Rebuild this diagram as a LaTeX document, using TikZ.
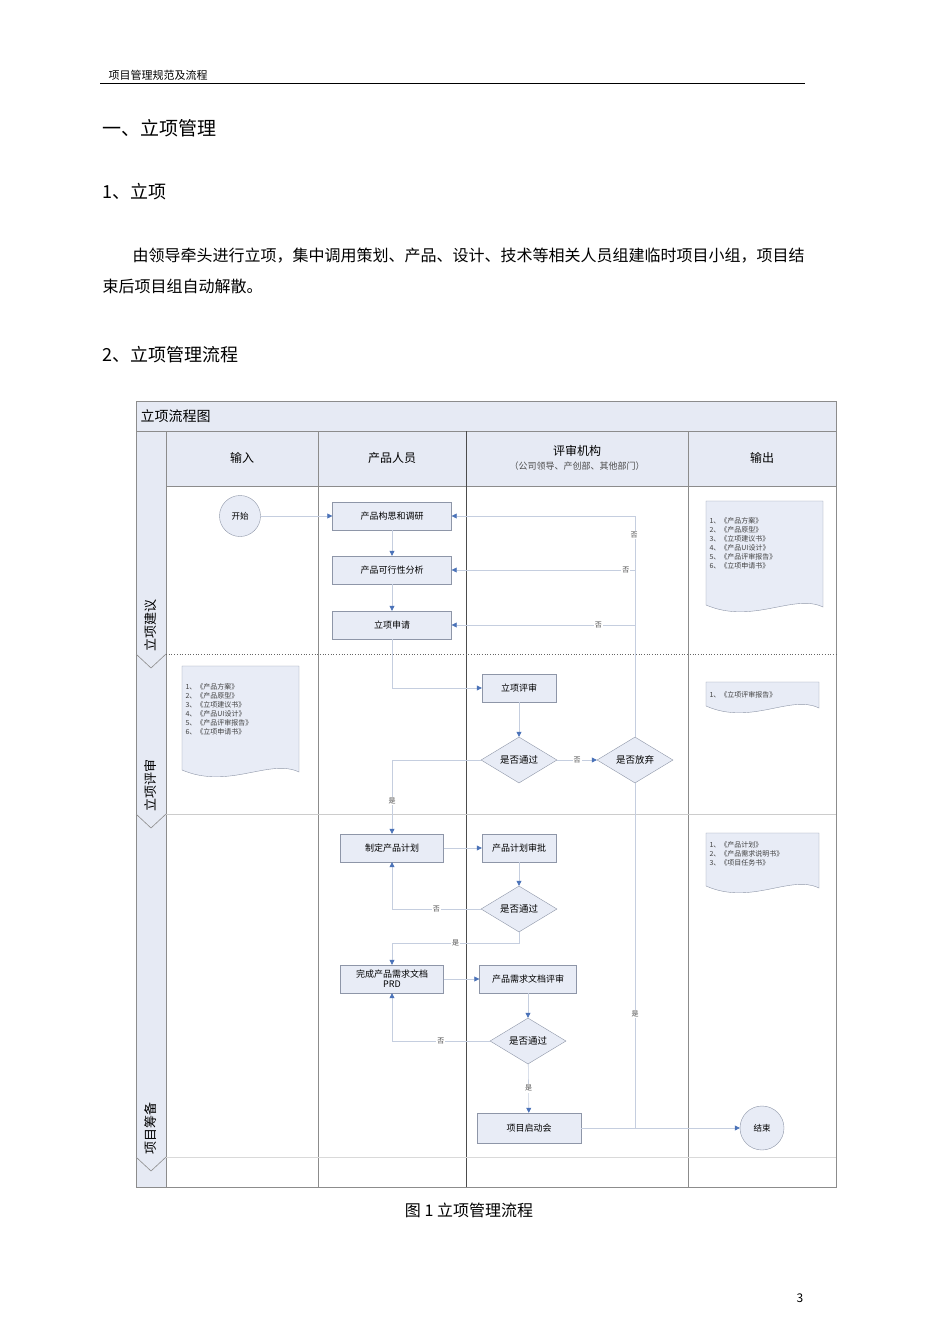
\documentclass[tikz,border=0pt]{standalone}
\usepackage{fontspec}
\setmainfont{Noto Sans CJK SC}
\usetikzlibrary{shapes.geometric,arrows.meta}
\definecolor{boxfill}{HTML}{E8ECF6}
\definecolor{boxdraw}{HTML}{8E96A8}
\definecolor{lnk}{HTML}{C5CEDF}
\definecolor{tip}{HTML}{4A72B8}
\definecolor{hdr}{HTML}{E6EAF4}
\tikzset{
 x=1pt,y=-1pt,
 proc/.style={draw=boxdraw,fill=boxfill,minimum height=28pt,inner sep=1pt,font=\fontsize{9}{10}\selectfont,align=center},
 dec/.style={diamond,draw=boxdraw,fill=boxfill,aspect=1.65,inner sep=0pt,minimum width=76pt,minimum height=46pt,font=\fontsize{9.5}{10}\selectfont},
 term/.style={circle,draw=boxdraw,fill=boxfill,minimum size=41pt,inner sep=0pt,font=\fontsize{8.5}{9}\selectfont},
 lk/.style={draw=lnk,line width=0.6pt,-{Triangle[color=tip,length=5pt,width=5pt]}},
 ln/.style={draw=lnk,line width=0.6pt},
 lab/.style={font=\fontsize{7}{8}\selectfont,text=black!70,inner sep=1pt,fill=white},
 doctext/.style={font=\fontsize{7}{9}\selectfont,align=left,anchor=north west,text=black!75},
 lane/.style={draw=black!45,line width=0.7pt},
}
\newcommand{\docshape}[4]{% x1 y1 x2 ybottom
 \path[draw=boxdraw,fill=boxfill] (#1,#2) -- (#3,#2) -- (#3,#4-8)
  .. controls ({#3-0.25*(#3-#1)},#4-22) and ({#1+0.4*(#3-#1)},#4+10) .. (#1,#4-10) -- cycle;}
\begin{document}
\begin{tikzpicture}
\useasboundingbox (0,0) rectangle (950,1344);
\fill[white] (0,0) rectangle (950,1344);
% page header
\node[anchor=west,font=\fontsize{11}{12}\selectfont] (hd) at (105,75) {项目管理规范及流程};
\draw[line width=0.8pt] (100,83) -- (805,83);
\node[anchor=west,font=\fontsize{19}{20}\selectfont] (h1) at (99,128) {一、立项管理};
\node[anchor=west,font=\fontsize{18}{20}\selectfont] (h2) at (99,192) {1、立项};
\node[anchor=west,font=\fontsize{16}{18}\selectfont] (p1) at (129,256) {由领导牵头进行立项，集中调用策划、产品、设计、技术等相关人员组建临时项目小组，项目结};
\node[anchor=west,font=\fontsize{16}{18}\selectfont] (p2) at (99,286) {束后项目组自动解散。};
\node[anchor=west,font=\fontsize{18}{20}\selectfont] (h3) at (99,355) {2、立项管理流程};
% frame
\fill[hdr] (136,401) rectangle (836,431);
\fill[hdr] (166,431) rectangle (836,486);
\fill[hdr] (136,431) rectangle (166,1187);
\draw[black!45,line width=0.8pt] (136,401) rectangle (836,1187);
\draw[lane] (136,431) -- (836,431);
\draw[lane] (166,486) -- (836,486);
\node[anchor=west,font=\fontsize{14}{16}\selectfont] (title) at (137,416) {立项流程图};
\draw[lane] (166,431) -- (166,1187);
\draw[lane] (318,431) -- (318,1187);
\draw[black!70,line width=0.7pt] (466,431) -- (466,1187);
\draw[lane] (688,431) -- (688,1187);
\draw[black!60,dotted,line width=0.7pt] (166,654) -- (836,654);
\draw[black!20,line width=0.5pt] (166,814) -- (836,814);
\draw[black!15,line width=0.5pt] (166,1157) -- (836,1157);
\node[font=\fontsize{12}{14}\selectfont] (c1) at (242,458) {输入};
\node[font=\fontsize{12}{14}\selectfont] (c2) at (392,458) {产品人员};
\node[font=\fontsize{12}{14}\selectfont] (c3) at (577,451) {评审机构};
\node[font=\fontsize{9}{10}\selectfont,text=black!70] (c3b) at (577,466) {（公司领导、产创部、其他部门）};
\node[font=\fontsize{12}{14}\selectfont] (c4) at (762,458) {输出};
% phase chevrons
\foreach \yy in {654,814,1157}{\draw[black!45,fill=hdr,line width=0.6pt] (136,\yy) -- (151,\yy+14) -- (166,\yy);}
\node[rotate=90,font=\fontsize{13}{14}\selectfont] (ph1) at (151,625) {立项建议};
\node[rotate=90,font=\fontsize{13}{14}\selectfont] (ph2) at (151,785) {立项评审};
\node[rotate=90,font=\fontsize{13}{14}\selectfont] (ph3) at (151,1128) {项目筹备};
% documents
\docshape{706}{501}{823}{615}
\node[doctext] (o1) at (706,514) {1、《产品方案》\\2、《产品原型》\\3、《立项建议书》\\4、《产品UI设计》\\5、《产品评审报告》\\6、《立项申请书》};
\docshape{182}{666}{299}{780}
\node[doctext] (i1) at (182,680) {1、《产品方案》\\2、《产品原型》\\3、《立项建议书》\\4、《产品UI设计》\\5、《产品评审报告》\\6、《立项申请书》};
\docshape{706}{682}{819}{716}
\node[doctext] (o2) at (706,688) {1、《立项评审报告》};
\docshape{706}{833}{819}{896}
\node[doctext] (o3) at (706,838) {1、《产品计划》\\2、《产品需求说明书》\\3、《项目任务书》};
% nodes
\node[term] (start) at (240,516) {开始};
\node[proc,minimum width=119pt] (b1) at (392,516) {产品构思和调研};
\node[proc,minimum width=119pt] (b2) at (392,570) {产品可行性分析};
\node[proc,minimum width=119pt] (b3) at (392,625) {立项申请};
\node[proc,minimum width=74pt] (rv) at (519,688) {立项评审};
\node[dec] (d1) at (519,760) {是否通过};
\node[dec] (d2) at (635,760) {是否放弃};
\node[proc,minimum width=103pt] (pl) at (392,848) {制定产品计划};
\node[proc,minimum width=74pt] (ap) at (519,848) {产品计划审批};
\node[dec] (d3) at (519,909) {是否通过};
\node[proc,minimum width=103pt] (prd) at (392,979) {完成产品需求文档\\PRD};
\node[proc,minimum width=97pt] (prv) at (528,979) {产品需求文档评审};
\node[dec] (d4) at (528,1041) {是否通过};
\node[proc,minimum width=104pt,minimum height=30pt] (ko) at (529,1128) {项目启动会};
\node[term,minimum size=44pt] (end) at (762,1128) {结束};
% connectors
\draw[lk] (start) -- (b1);
\draw[lk] (b1) -- (b2);
\draw[lk] (b2) -- (b3);
\draw[lk] (b3) |- (rv);
\draw[lk] (rv) -- (d1);
\draw[lk] (d1) -- node[lab]{否} (d2);
\draw[lk] (d1) -| node[lab,pos=0.78]{是} (pl);
\coordinate (r1) at (635,516);
\coordinate (r2) at (635,570);
\coordinate (r3) at (635,625);
\draw[ln] (d2) -- (r1);
\draw[lk] (r1) -- (b1);
\node[lab] (n1) at (634,535) {否};
\draw[lk] (r2) -- node[lab,pos=0.05]{否} (b2);
\draw[lk] (r3) -- node[lab,pos=0.2]{否} (b3);
\coordinate (r4) at (635,1128);
\draw[ln] (d2) -- node[lab,pos=0.67]{是} (r4);
\draw[lk] (ko) -- (end);
\draw[lk] (pl) -- (ap);
\draw[lk] (ap) -- (d3);
\draw[lk] (d3) -| node[lab,pos=0.25]{否} (pl);
\coordinate (k1) at (519,943);
\coordinate (k2) at (392,943);
\draw[ln] (d3) -- (k1) -- node[lab,pos=0.5]{是} (k2);
\draw[lk] (k2) -- (prd);
\draw[lk] (prd) -- (prv);
\draw[lk] (prv) -- (d4);
\draw[lk] (d4) -| node[lab,pos=0.25]{否} (prd);
\draw[lk] (d4) -- node[lab]{是} (ko);
% caption
\node[font=\fontsize{16}{18}\selectfont] (cap) at (469,1210) {图 1 立项管理流程};
\node[font=\fontsize{12}{14}\selectfont] (pg) at (800,1298) {3};
\end{tikzpicture}
\end{document}
